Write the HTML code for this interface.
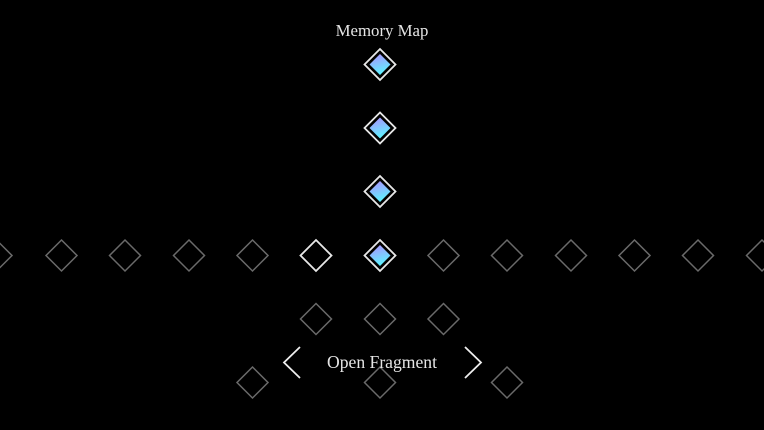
<!DOCTYPE html>
<html><head><meta charset="utf-8"><style>
html,body{margin:0;padding:0;background:#000;width:764px;height:430px;overflow:hidden}
svg{display:block}
text{font-family:"Liberation Serif",serif;fill:#e6e6e6}
</style></head><body>
<svg width="764" height="430" viewBox="0 0 764 430" xmlns="http://www.w3.org/2000/svg">
<defs>
<linearGradient id="g" x1="0" y1="0" x2="0.3" y2="1">
<stop offset="0" stop-color="#b08cff"/><stop offset="1" stop-color="#5ff0ff"/>
</linearGradient>
<path id="d" d="M0,-15.5 L15.5,0 L0,15.5 L-15.5,0 Z"/>
<path id="di" d="M0,-10.5 L10.5,0 L0,10.5 L-10.5,0 Z"/>
</defs>
<text x="382" y="36" font-size="16.8" text-anchor="middle">Memory Map</text>
<g fill="none" stroke="#6a6a6a" stroke-width="1.5">
<use href="#d" x="-3.5" y="255.5"/>
<use href="#d" x="61.5" y="255.5"/>
<use href="#d" x="125" y="255.5"/>
<use href="#d" x="189" y="255.5"/>
<use href="#d" x="252.5" y="255.5"/>
<use href="#d" x="443.5" y="255.5"/>
<use href="#d" x="507" y="255.5"/>
<use href="#d" x="571" y="255.5"/>
<use href="#d" x="634.5" y="255.5"/>
<use href="#d" x="698" y="255.5"/>
<use href="#d" x="762" y="255.5"/>
<use href="#d" x="316" y="319"/>
<use href="#d" x="380" y="319"/>
<use href="#d" x="443.5" y="319"/>
<use href="#d" x="252.5" y="382.5"/>
<use href="#d" x="380" y="382.5"/>
<use href="#d" x="507" y="382.5"/>
</g>
<use href="#d" x="316" y="255.5" fill="none" stroke="#e8e8e8" stroke-width="1.8"/>
<g>
<use href="#d" x="380" y="64.5" fill="none" stroke="#e8e8e8" stroke-width="1.8"/>
<use href="#di" x="380" y="64.5" fill="url(#g)"/>
<use href="#d" x="380" y="128" fill="none" stroke="#e8e8e8" stroke-width="1.8"/>
<use href="#di" x="380" y="128" fill="url(#g)"/>
<use href="#d" x="380" y="191.5" fill="none" stroke="#e8e8e8" stroke-width="1.8"/>
<use href="#di" x="380" y="191.5" fill="url(#g)"/>
<use href="#d" x="380" y="255.5" fill="none" stroke="#e8e8e8" stroke-width="1.8"/>
<use href="#di" x="380" y="255.5" fill="url(#g)"/>
</g>
<polyline points="300,347 284,362.5 300,378" fill="none" stroke="#eee" stroke-width="1.8"/>
<polyline points="465,347 481,362.5 465,378" fill="none" stroke="#eee" stroke-width="1.8"/>
<text x="382" y="368" font-size="17.6" text-anchor="middle">Open Fragment</text>
</svg>
</body></html>
